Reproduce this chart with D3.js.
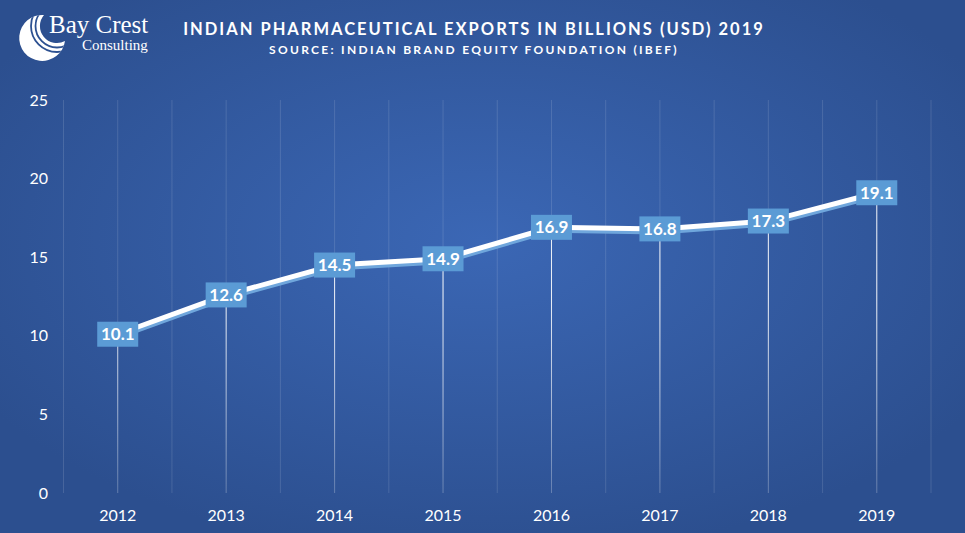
<!DOCTYPE html>
<html>
<head>
<meta charset="utf-8">
<script src="https://cdn.jsdelivr.net/npm/d3@7"></script>
<style>
  html, body { margin: 0; padding: 0; background: #2d5191; }
  svg { display: block; }
</style>
</head>
<body>
<svg id="chart" width="965" height="533"></svg>
<script>
// data
const years = ["2012", "2013", "2014", "2015", "2016", "2017", "2018", "2019"];
const exportsUsd = [10.1, 12.6, 14.5, 14.9, 16.9, 16.8, 17.3, 19.1];
const yTicks = [0, 5, 10, 15, 20, 25];

const W = 965, H = 533;
const m = {left: 63.5, right: 34, top: 100, bottom: 40};
const font = "Lato, 'Open Sans', sans-serif";

let svg = d3.select("#chart");

// background glow
let defs = svg.append("defs");
let grad = defs.append("radialGradient").attr("id", "bg")
    .attr("cx", "50%").attr("cy", "45%").attr("r", "60%");
grad.append("stop").attr("offset", "0%").attr("stop-color", "#3b67b5");
grad.append("stop").attr("offset", "100%").attr("stop-color", "#2c4f8f");
svg.append("rect").attr("width", W).attr("height", H).attr("fill", "url(#bg)");

// drop line fades toward the axis
let fade = defs.append("linearGradient").attr("id", "fade")
    .attr("gradientUnits", "userSpaceOnUse")
    .attr("x1", 0).attr("x2", 0).attr("y1", 300).attr("y2", 493);
fade.append("stop").attr("offset", "0%").attr("stop-color", "#fff").attr("stop-opacity", 0.9);
fade.append("stop").attr("offset", "100%").attr("stop-color", "#fff").attr("stop-opacity", 0.15);

let x = d3.scaleBand().domain(years).range([m.left, W - m.right]);
let y = d3.scaleLinear().domain([0, 25]).range([H - m.bottom, m.top]);
let cx = d => x(d) + x.bandwidth() / 2;

// vertical gridlines, every half category
let gridX = [];
years.forEach(d => { gridX.push(x(d)); gridX.push(cx(d)); });
gridX.push(W - m.right);
svg.append("g").selectAll("line").data(gridX).join("line")
    .attr("x1", d => d).attr("x2", d => d)
    .attr("y1", y(25)).attr("y2", y(0))
    .attr("stroke", "#ffffff").attr("stroke-opacity", 0.13).attr("stroke-width", 1);

// y axis labels
svg.append("g").selectAll("text").data(yTicks).join("text")
    .attr("x", 48).attr("y", d => y(d)).attr("dy", "0.35em")
    .attr("text-anchor", "end")
    .attr("font-family", font)
    .attr("font-size", 16).attr("fill", "#ffffff")
    .text(d => d);

// x axis labels
svg.append("g").selectAll("text").data(years).join("text")
    .attr("x", d => cx(d)).attr("y", 521)
    .attr("text-anchor", "middle")
    .attr("font-family", font)
    .attr("font-size", 16).attr("fill", "#ffffff")
    .text(d => d);

// drop lines
svg.append("g").selectAll("line").data(years).join("line")
    .attr("x1", d => cx(d)).attr("x2", d => cx(d))
    .attr("y1", (d, i) => y(exportsUsd[i])).attr("y2", y(0))
    .attr("stroke", "url(#fade)").attr("stroke-width", 1);

// line with light blue shadow
let line = d3.line().x((d, i) => cx(years[i])).y(d => y(d));
svg.append("path").datum(exportsUsd)
    .attr("d", line).attr("fill", "none")
    .attr("transform", "translate(0,3)")
    .attr("stroke", "#6fa6dc").attr("stroke-width", 5);
svg.append("path").datum(exportsUsd)
    .attr("d", line).attr("fill", "none")
    .attr("stroke", "#ffffff").attr("stroke-width", 5);

// value labels
let lab = svg.append("g").selectAll("g").data(exportsUsd).join("g")
    .attr("transform", (d, i) => `translate(${cx(years[i])},${y(d)})`);
lab.append("rect")
    .attr("x", -20.5).attr("y", -12.5).attr("width", 41).attr("height", 25)
    .attr("fill", "#5b9bd5");
lab.append("text")
    .attr("text-anchor", "middle").attr("dy", "0.36em")
    .attr("font-family", font)
    .attr("font-weight", "bold").attr("font-size", 17).attr("fill", "#ffffff")
    .text(d => d.toFixed(1));

// titles
svg.append("text")
    .attr("x", 474).attr("y", 35).attr("text-anchor", "middle")
    .attr("font-family", font)
    .attr("font-weight", "bold").attr("font-size", 16.5).attr("letter-spacing", 2.0)
    .attr("fill", "#ffffff")
    .text("INDIAN PHARMACEUTICAL EXPORTS IN BILLIONS (USD) 2019");
svg.append("text")
    .attr("x", 474).attr("y", 54).attr("text-anchor", "middle")
    .attr("font-family", font)
    .attr("font-weight", "bold").attr("font-size", 12).attr("letter-spacing", 2.3)
    .attr("fill", "#ffffff")
    .text("SOURCE: INDIAN BRAND EQUITY FOUNDATION (IBEF)");

// logo: crescent with two thin bands
const moon = "M44,15 A23,23 0 1,0 65,41 A17,17 0 0,1 44,15 Z";
defs.append("clipPath").attr("id", "moon").append("path").attr("d", moon);
let logo = svg.append("g");
logo.append("path").attr("d", moon).attr("fill", "#ffffff");
logo.append("g").attr("clip-path", "url(#moon)")
    .selectAll("circle").data([21.5, 26]).join("circle")
    .attr("cx", 57).attr("cy", 26).attr("r", d => d)
    .attr("fill", "none").attr("stroke", "#2d5191").attr("stroke-width", 1.8);
logo.append("text")
    .attr("x", 49).attr("y", 33)
    .attr("font-family", "'Liberation Serif', 'DejaVu Serif', serif")
    .attr("font-size", 25).attr("fill", "#ffffff")
    .text("Bay Crest");
logo.append("text")
    .attr("x", 82).attr("y", 50)
    .attr("font-family", "'Liberation Serif', 'DejaVu Serif', serif")
    .attr("font-size", 15).attr("fill", "#ffffff")
    .text("Consulting");
</script>
</body>
</html>
